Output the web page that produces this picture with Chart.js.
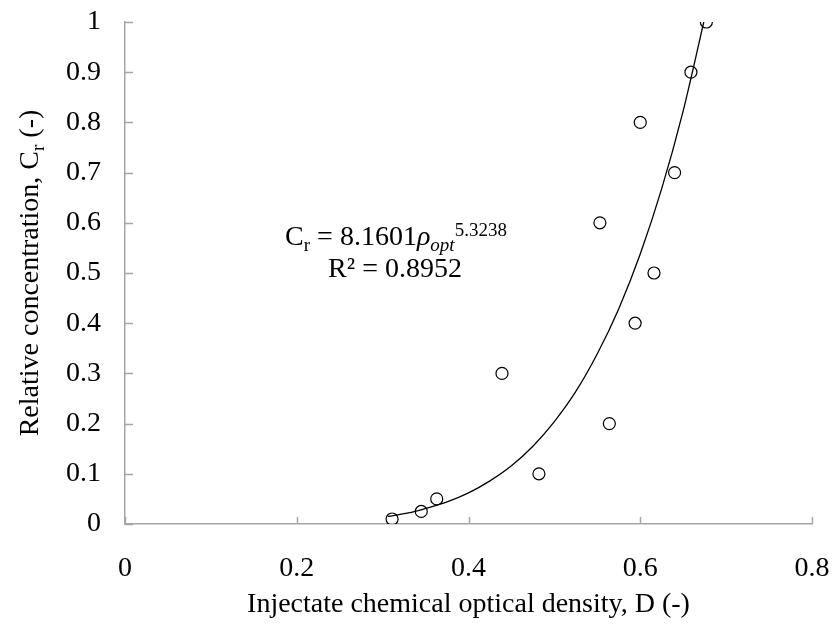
<!DOCTYPE html>
<html>
<head>
<meta charset="utf-8">
<script src="https://cdn.jsdelivr.net/npm/chart.js@4.4.0/dist/chart.umd.min.js"></script>
<style>
  html, body { margin: 0; padding: 0; background: #fff; }
  #wrap { width: 834px; height: 630px; }
</style>
</head>
<body>
<div id="wrap"><canvas id="densidadeChart"></canvas></div>
<script>
const densidade = [0.311, 0.345, 0.363, 0.439, 0.482, 0.553, 0.564, 0.594, 0.600, 0.616, 0.640, 0.659, 0.677];
const concentracao = [0.01, 0.025, 0.05, 0.3, 0.1, 0.6, 0.2, 0.4, 0.8, 0.5, 0.7, 0.9, 1.0];

// linha de tendência (pontos lidos ao longo da curva)
const curvaX = [0.306, 0.33, 0.35, 0.375, 0.40, 0.425, 0.45, 0.475, 0.50, 0.525, 0.55, 0.575, 0.60, 0.625, 0.65, 0.674];
const curvaY = [0.015, 0.022, 0.031, 0.044, 0.062, 0.086, 0.116, 0.155, 0.204, 0.264, 0.339, 0.429, 0.538, 0.668, 0.823, 1.0];

const ticksX = [0, 0.2, 0.4, 0.6, 0.8];
const ticksY = [0, 0.1, 0.2, 0.3, 0.4, 0.5, 0.6, 0.7, 0.8, 0.9, 1];

const FONTE = "'Liberation Serif', 'Times New Roman', serif";
const CINZA = '#a6a6a6';

function desenharTrechos(ctx, trechos, centroX, base) {
    let total = 0;
    trechos.forEach(t => {
        ctx.font = (t.italic ? 'italic ' : '') + t.size + 'px ' + FONTE;
        t.w = ctx.measureText(t.text).width;
        total += t.w;
    });
    let x = centroX - total / 2;
    trechos.forEach(t => {
        ctx.font = (t.italic ? 'italic ' : '') + t.size + 'px ' + FONTE;
        ctx.fillText(t.text, x, base + (t.dy || 0));
        x += t.w;
    });
}

const extras = {
    id: 'extras',
    afterDraw(chart) {
        const ctx = chart.ctx;
        const area = chart.chartArea;
        const sx = chart.scales.x, sy = chart.scales.y;
        ctx.save();
        // marcas internas dos eixos
        ctx.strokeStyle = CINZA;
        ctx.lineWidth = 1.5;
        ctx.beginPath();
        ticksX.forEach(v => {
            const px = Math.round(sx.getPixelForValue(v)) + 0.5;
            ctx.moveTo(px, area.bottom);
            ctx.lineTo(px, area.bottom - 7);
        });
        ticksY.forEach(v => {
            const py = Math.round(sy.getPixelForValue(v)) + 0.5;
            ctx.moveTo(area.left, py);
            ctx.lineTo(area.left + 8, py);
        });
        ctx.stroke();

        ctx.fillStyle = '#000';
        ctx.textBaseline = 'alphabetic';
        ctx.textAlign = 'left';

        // equação
        desenharTrechos(ctx, [
            { text: 'C', size: 28 },
            { text: 'r', size: 19, dy: 6 },
            { text: ' = 8.1601', size: 28 },
            { text: 'ρ', size: 28, italic: true },
            { text: 'opt', size: 19, italic: true, dy: 6 },
            { text: '5.3238', size: 19, dy: -9 }
        ], 396, 245);
        desenharTrechos(ctx, [{ text: 'R² = 0.8952', size: 28 }], 395, 277);

        // título do eixo x
        desenharTrechos(ctx, [{ text: 'Injectate chemical optical density, D (-)', size: 28 }],
            (area.left + area.right) / 2, 612);

        // título do eixo y
        ctx.translate(38, (area.top + area.bottom) / 2);
        ctx.rotate(-Math.PI / 2);
        desenharTrechos(ctx, [
            { text: 'Relative concentration, C', size: 28 },
            { text: 'r', size: 19, dy: 6 },
            { text: ' (-)', size: 28 }
        ], 0, 0);
        ctx.restore();
    }
};

document.addEventListener('DOMContentLoaded', function() {
    const ctx = document.getElementById('densidadeChart');
    new Chart(ctx.getContext('2d'), {
        type: 'scatter',
        data: {
            datasets: [
                {
                    label: 'Tendência',
                    data: curvaX.map((x, i) => ({ x: x, y: curvaY[i] })),
                    showLine: true,
                    borderColor: '#000',
                    borderWidth: 1.3,
                    pointRadius: 0,
                    cubicInterpolationMode: 'monotone',
                    fill: false
                },
                {
                    label: 'Medições',
                    data: densidade.map((x, i) => ({ x: x, y: concentracao[i] })),
                    pointStyle: 'circle',
                    pointRadius: 6,
                    pointBorderWidth: 1.2,
                    borderColor: '#000',
                    backgroundColor: 'rgba(0,0,0,0)'
                }
            ]
        },
        options: {
            responsive: true,
            maintainAspectRatio: false,
            animation: false,
            layout: { padding: { top: 22, right: 22, left: 0, bottom: 0 } },
            plugins: {
                legend: { display: false },
                tooltip: { enabled: false }
            },
            scales: {
                x: {
                    type: 'linear',
                    min: 0,
                    max: 0.8,
                    afterBuildTicks: s => { s.ticks = ticksX.map(v => ({ value: v })); },
                    afterFit: s => {
                        s.height = 106;
                        s.paddingLeft = 0;
                        s.paddingRight = 0;
                    },
                    ticks: {
                        color: '#000',
                        font: { family: FONTE, size: 28 },
                        padding: 28,
                        callback: v => String(+v.toFixed(1))
                    },
                    grid: { drawOnChartArea: false, drawTicks: false },
                    border: { color: CINZA, width: 1.5 }
                },
                y: {
                    type: 'linear',
                    min: 0,
                    max: 1,
                    afterBuildTicks: s => { s.ticks = ticksY.map(v => ({ value: v })); },
                    afterFit: s => {
                        s.width = 125;
                        s.paddingTop = 0;
                        s.paddingBottom = 0;
                    },
                    ticks: {
                        color: '#000',
                        font: { family: FONTE, size: 28 },
                        padding: 24,
                        callback: v => String(+v.toFixed(1))
                    },
                    grid: { drawOnChartArea: false, drawTicks: false },
                    border: { color: CINZA, width: 1.5 }
                }
            }
        },
        plugins: [extras]
    });
});
</script>
</body>
</html>
